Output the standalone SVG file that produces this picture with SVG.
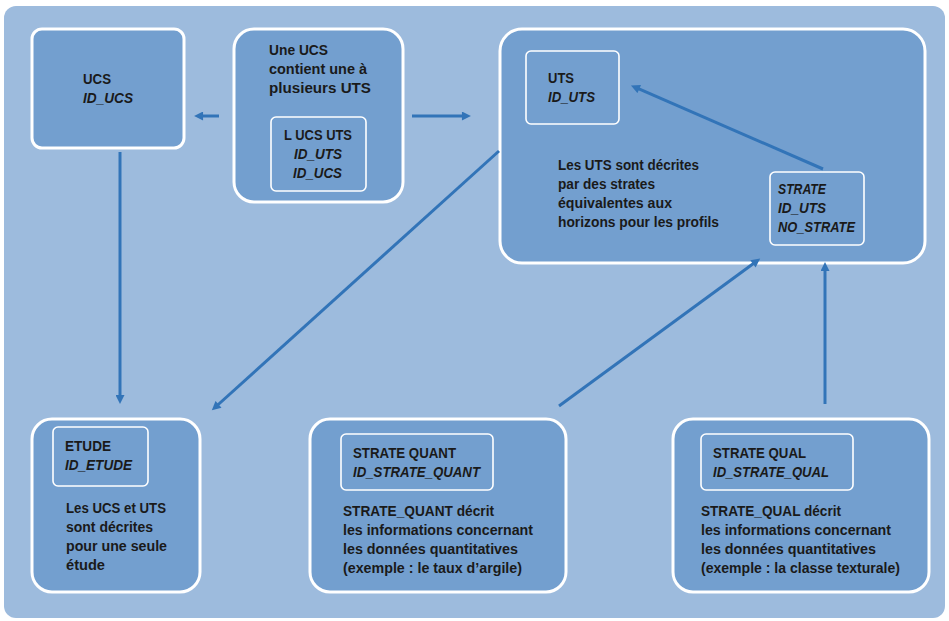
<svg xmlns="http://www.w3.org/2000/svg" width="949" height="621" viewBox="0 0 949 621">
<defs>
<style>
.panel{fill:#9dbbdd}
.box{fill:#739fcf;stroke:#ffffff;stroke-width:3}
.inner{fill:#739fcf;stroke:#ffffff;stroke-width:1.6}
.t{font-family:"Liberation Sans",Arial,sans-serif;font-weight:bold;font-size:14px;fill:#1a1a1a}
.i{font-style:italic}
.c{fill:none;stroke:#3274b8;stroke-width:3;marker-end:url(#ah)}
</style>
<marker id="ah" viewBox="0 0 10 10" refX="4.5" refY="5" markerWidth="11" markerHeight="9" markerUnits="userSpaceOnUse" orient="auto">
<path d="M0,0 L10,5 L0,10 Z" fill="#3274b8"/>
</marker>
</defs>
<rect x="0" y="0" width="949" height="621" fill="#ffffff"/>
<rect class="panel" x="4" y="6" width="941" height="612" rx="12"/>

<g id="ucs">
<rect class="box" x="32" y="29" width="152" height="119" rx="10"/>
<text class="t" x="83" y="84" textLength="28" lengthAdjust="spacingAndGlyphs">UCS</text>
<text class="t i" x="83" y="103" textLength="50" lengthAdjust="spacingAndGlyphs">ID_UCS</text>
</g>

<g id="l_ucs_uts">
<rect class="box" x="234" y="29" width="169" height="173" rx="20"/>
<text class="t" x="269" y="55" textLength="59" lengthAdjust="spacingAndGlyphs">Une UCS</text>
<text class="t" x="269" y="74" textLength="98" lengthAdjust="spacingAndGlyphs">contient une à</text>
<text class="t" x="269" y="93" textLength="102" lengthAdjust="spacingAndGlyphs">plusieurs UTS</text>
<rect class="inner" x="271" y="117" width="95" height="74" rx="5"/>
<text class="t" x="284" y="140" textLength="68" lengthAdjust="spacingAndGlyphs">L UCS UTS</text>
<text class="t i" x="294" y="159" textLength="48" lengthAdjust="spacingAndGlyphs">ID_UTS</text>
<text class="t i" x="293" y="178" textLength="49" lengthAdjust="spacingAndGlyphs">ID_UCS</text>
</g>

<g id="uts_group">
<rect class="box" x="500" y="29" width="425" height="234" rx="22"/>
<text class="t" x="558" y="170" textLength="141" lengthAdjust="spacingAndGlyphs">Les UTS sont décrites</text>
<text class="t" x="558" y="189" textLength="97" lengthAdjust="spacingAndGlyphs">par des strates</text>
<text class="t" x="558" y="208" textLength="114" lengthAdjust="spacingAndGlyphs">équivalentes aux</text>
<text class="t" x="558" y="227" textLength="161" lengthAdjust="spacingAndGlyphs">horizons pour les profils</text>
</g>

<g id="uts">
<rect class="inner" x="526" y="51" width="93" height="73" rx="5"/>
<text class="t" x="548" y="83" textLength="26" lengthAdjust="spacingAndGlyphs">UTS</text>
<text class="t i" x="548" y="102" textLength="47" lengthAdjust="spacingAndGlyphs">ID_UTS</text>
</g>

<g id="strate">
<rect class="inner" x="770" y="172" width="94" height="73" rx="5"/>
<text class="t i" x="778" y="194" textLength="48" lengthAdjust="spacingAndGlyphs">STRATE</text>
<text class="t i" x="778" y="213" textLength="48" lengthAdjust="spacingAndGlyphs">ID_UTS</text>
<text class="t i" x="778" y="232" textLength="77" lengthAdjust="spacingAndGlyphs">NO_STRATE</text>
</g>

<g id="etude">
<rect class="box" x="32" y="419" width="168" height="173" rx="20"/>
<rect class="inner" x="53" y="427" width="95" height="59" rx="5"/>
<text class="t" x="65" y="451" textLength="46" lengthAdjust="spacingAndGlyphs">ETUDE</text>
<text class="t i" x="65" y="470" textLength="67" lengthAdjust="spacingAndGlyphs">ID_ETUDE</text>
<text class="t" x="66" y="513" textLength="100" lengthAdjust="spacingAndGlyphs">Les UCS et UTS</text>
<text class="t" x="66" y="532" textLength="87" lengthAdjust="spacingAndGlyphs">sont décrites</text>
<text class="t" x="66" y="551" textLength="101" lengthAdjust="spacingAndGlyphs">pour une seule</text>
<text class="t" x="66" y="570" textLength="39" lengthAdjust="spacingAndGlyphs">étude</text>
</g>

<g id="strate_quant">
<rect class="box" x="310" y="419" width="256" height="173" rx="20"/>
<rect class="inner" x="341" y="434" width="152" height="56" rx="5"/>
<text class="t" x="353" y="458" textLength="103" lengthAdjust="spacingAndGlyphs">STRATE QUANT</text>
<text class="t i" x="353" y="477" textLength="127" lengthAdjust="spacingAndGlyphs">ID_STRATE_QUANT</text>
<text class="t" x="343" y="516" textLength="151" lengthAdjust="spacingAndGlyphs">STRATE_QUANT décrit</text>
<text class="t" x="343" y="535" textLength="190" lengthAdjust="spacingAndGlyphs">les informations concernant</text>
<text class="t" x="343" y="554" textLength="175" lengthAdjust="spacingAndGlyphs">les données quantitatives</text>
<text class="t" x="343" y="573" textLength="179" lengthAdjust="spacingAndGlyphs">(exemple : le taux d’argile)</text>
</g>

<g id="strate_qual">
<rect class="box" x="673" y="419" width="256" height="173" rx="20"/>
<rect class="inner" x="701" y="434" width="152" height="56" rx="5"/>
<text class="t" x="713" y="458" textLength="93" lengthAdjust="spacingAndGlyphs">STRATE QUAL</text>
<text class="t i" x="713" y="477" textLength="116" lengthAdjust="spacingAndGlyphs">ID_STRATE_QUAL</text>
<text class="t" x="701" y="516" textLength="140" lengthAdjust="spacingAndGlyphs">STRATE_QUAL décrit</text>
<text class="t" x="701" y="535" textLength="190" lengthAdjust="spacingAndGlyphs">les informations concernant</text>
<text class="t" x="701" y="554" textLength="175" lengthAdjust="spacingAndGlyphs">les données quantitatives</text>
<text class="t" x="701" y="573" textLength="199" lengthAdjust="spacingAndGlyphs">(exemple : la classe texturale)</text>
</g>

<g id="connectors">
<path class="c" d="M120,152 L120,399"/>
<path class="c" d="M219,116 L199,116"/>
<path class="c" d="M412,116 L466,116"/>
<path class="c" d="M499,151 L215.5,407"/>
<path class="c" d="M823,169 L635.5,87.4"/>
<path class="c" d="M559,406 L756.2,261.5"/>
<path class="c" d="M825,404 L825,267"/>
</g>
</svg>
